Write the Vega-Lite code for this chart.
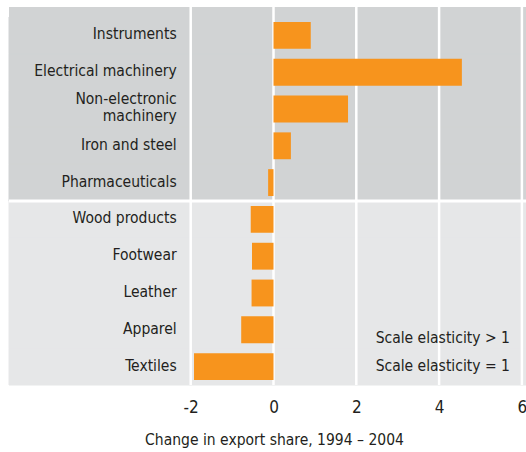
{
  "$schema": "https://vega.github.io/schema/vega-lite/v6.json",
  "width": 517,
  "height": 378,
  "autosize": "none",
  "padding": {"left": 9, "top": 7, "right": 0, "bottom": 67},
  "background": "white",
  "view": {"fill": "#d1d3d4", "stroke": null},
  "config": {
    "font": "DejaVu Sans Condensed, sans-serif"
  },
  "datasets": {
    "bars": [
      {"cat": "Instruments", "label": "Instruments", "group": "top", "change": 0.9},
      {"cat": "Electrical machinery", "label": "Electrical machinery", "group": "top", "change": 4.55},
      {"cat": "Non-electronic machinery", "label": "Non-electronic\nmachinery", "group": "top", "change": 1.8},
      {"cat": "Iron and steel", "label": "Iron and steel", "group": "top", "change": 0.42},
      {"cat": "Pharmaceuticals", "label": "Pharmaceuticals", "group": "top", "change": -0.13},
      {"cat": "Wood products", "label": "Wood products", "group": "bottom", "change": -0.55},
      {"cat": "Footwear", "label": "Footwear", "group": "bottom", "change": -0.52},
      {"cat": "Leather", "label": "Leather", "group": "bottom", "change": -0.53},
      {"cat": "Apparel", "label": "Apparel", "group": "bottom", "change": -0.78},
      {"cat": "Textiles", "label": "Textiles", "group": "bottom", "change": -1.92}
    ]
  },
  "encoding": {
    "y": {
      "field": "cat",
      "type": "nominal",
      "axis": null,
      "scale": {
        "domain": ["Instruments", "Electrical machinery", "Non-electronic machinery", "Iron and steel", "Pharmaceuticals", "Wood products", "Footwear", "Leather", "Apparel", "Textiles"],
        "paddingInner": 0,
        "paddingOuter": 0.136,
        "align": 1
      }
    }
  },
  "layer": [
    {
      "data": {"name": "bars"},
      "mark": {"type": "rect", "strokeWidth": 1},
      "encoding": {
        "x": {"datum": -6.389, "type": "quantitative", "scale": {"domain": [-6.389, 6.099], "nice": false, "zero": false}},
        "x2": {"datum": 6.099},
        "color": {"field": "group", "type": "nominal", "legend": null, "scale": {"domain": ["top", "bottom"], "range": ["#d1d3d4", "#e6e7e8"]}},
        "stroke": {"field": "group", "type": "nominal", "legend": null, "scale": {"domain": ["top", "bottom"], "range": ["#d1d3d4", "#e6e7e8"]}}
      }
    },
    {
      "data": {"values": [{"cat": "Wood products"}]},
      "mark": {"type": "rule", "color": "white", "strokeWidth": 3},
      "encoding": {
        "y": {"field": "cat", "type": "nominal", "bandPosition": 0}
      }
    },
    {
      "data": {"values": [{"v": -2}, {"v": 0}, {"v": 2}, {"v": 4}, {"v": 6}]},
      "mark": {"type": "rule", "color": "white", "strokeWidth": 2.5},
      "encoding": {
        "x": {"field": "v", "type": "quantitative"},
        "y": null
      }
    },
    {
      "data": {"name": "bars"},
      "mark": {"type": "bar", "color": "#f7941d", "height": {"band": 0.73}},
      "encoding": {
        "x": {
          "field": "change",
          "type": "quantitative",
          "axis": {
            "values": [-2, 0, 2, 4, 6],
            "grid": false,
            "domain": false,
            "ticks": false,
            "labelExpr": "datum.value",
            "labelFontSize": 17,
            "labelColor": "#231f20",
            "labelPadding": 14,
            "labelFlush": false,
            "title": "Change in export share, 1994 – 2004",
            "titleFontSize": 15.5,
            "titleFontWeight": "normal",
            "titleColor": "#231f20",
            "titlePadding": 17,
            "titleX": 265
          }
        },
        "x2": {"datum": 0}
      }
    },
    {
      "data": {"name": "bars"},
      "transform": [{"filter": "datum.cat !== 'Non-electronic machinery'"}],
      "mark": {"type": "text", "align": "right", "baseline": "middle", "dx": -14, "dy": -1, "fontSize": 15.5, "color": "#231f20"},
      "encoding": {
        "x": {"datum": -2},
        "text": {"field": "label"}
      }
    },
    {
      "data": {"name": "bars"},
      "transform": [{"filter": "datum.cat === 'Non-electronic machinery'"}],
      "mark": {"type": "text", "align": "right", "baseline": "middle", "dx": -14, "dy": -10.5, "fontSize": 15.5, "color": "#231f20", "lineBreak": "\n", "lineHeight": 17},
      "encoding": {
        "x": {"datum": -2},
        "text": {"field": "label"}
      }
    },
    {
      "data": {"values": [{"cat": "Apparel", "note": "Scale elasticity > 1"}]},
      "mark": {"type": "text", "align": "right", "baseline": "middle", "dx": -12, "dy": 8, "fontSize": 15.5, "color": "#231f20"},
      "encoding": {
        "x": {"datum": 6},
        "text": {"field": "note"}
      }
    },
    {
      "data": {"values": [{"cat": "Textiles", "note": "Scale elasticity = 1"}]},
      "mark": {"type": "text", "align": "right", "baseline": "middle", "dx": -12, "dy": -1, "fontSize": 15.5, "color": "#231f20"},
      "encoding": {
        "x": {"datum": 6},
        "text": {"field": "note"}
      }
    }
  ]
}
